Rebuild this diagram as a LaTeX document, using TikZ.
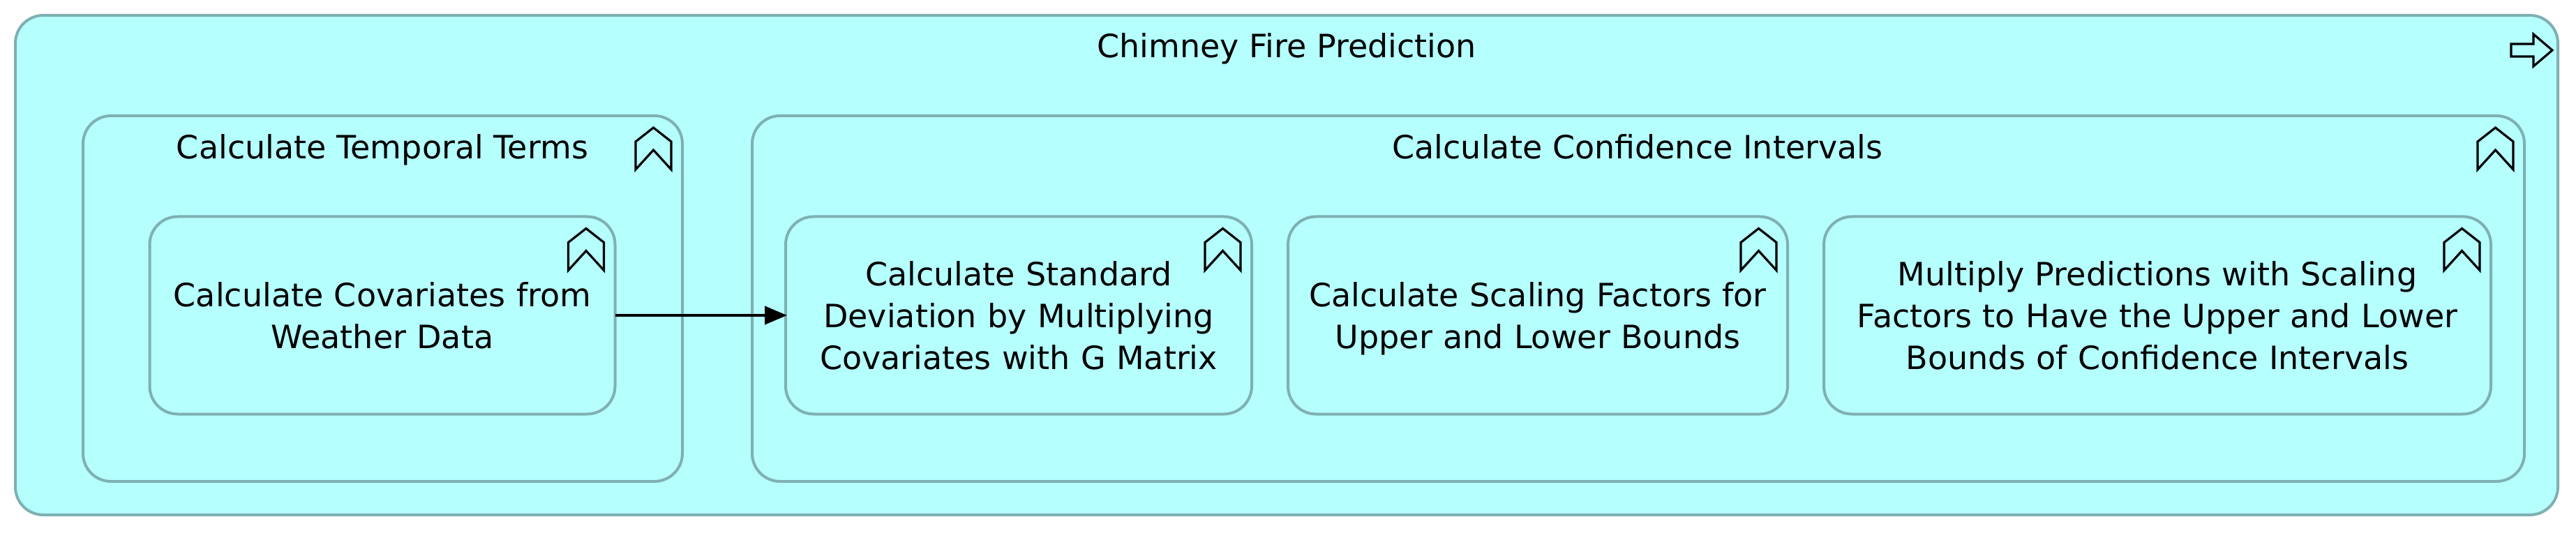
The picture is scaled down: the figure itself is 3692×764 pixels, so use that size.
\documentclass[tikz,border=0pt]{standalone}
\usepackage{fontspec}
\setmainfont{DejaVu Sans}
\usetikzlibrary{arrows.meta}
\definecolor{boxfill}{HTML}{B5FFFF}
\definecolor{boxline}{HTML}{7FB0B2}
\begin{document}
\begin{tikzpicture}[
        x=0.5pt, y=-0.5pt,
        box/.style={draw=boxline, fill=boxfill, line width=2pt, rounded corners=20pt, outer sep=0pt, inner sep=0pt, text width=#1, align=center, font=\fontsize{23}{30}\selectfont},
        title/.style={anchor=base, font=\fontsize{23}{30}\selectfont},
        iconline/.style={line width=1.6pt, miter limit=10},
        ar/.style={-{Triangle[length=16pt, width=13pt]}, line width=2pt, shorten >=-1pt},
    ]
    \useasboundingbox (0,0) rectangle (3692,764);

    \node[box=10pt, minimum width=1822pt, minimum height=358pt](fire) at (1844,380) {};
    \node[box=10pt, minimum width=429.5pt, minimum height=262pt](temporal) at (548.5,428) {};
    \node[box=10pt, minimum width=1270pt, minimum height=262pt](conf) at (2348,428) {};

    \node[box=325pt, minimum width=333.5pt, minimum height=141.5pt](cov) at (548,452) {Calculate Covariates from\\Weather Data};
    \node[box=325pt, minimum width=334pt, minimum height=141.5pt](std) at (1460,452) {Calculate Standard\\Deviation by Multiplying\\Covariates with G Matrix};
    \node[box=345pt, minimum width=358pt, minimum height=141.5pt](scale) at (2204,452) {Calculate Scaling Factors for\\\leavevmode\smash{Upper and Lower Bounds}};
    \node[box=470pt, minimum width=478pt, minimum height=141.5pt](mult) at (3092,452) {Multiply Predictions with Scaling\\Factors to Have the Upper and Lower\\Bounds of Confidence Intervals};

    \node[title](firetitle) at (1844,83) {Chimney Fire Prediction};
    \node[title](temporaltitle) at (548,228) {Calculate Temporal Terms};
    \node[title](conftitle) at (2347,228) {Calculate Confidence Intervals};

    % chevrons, from top right corner
    \foreach \n in {temporal, conf, cov, std, scale, mult}
        \draw[iconline] ([shift={(-67,37)}]\n.north east) -- ++(25.5,-20) -- ++(25.5,20) -- ++(0,40) -- ++(-25.5,-28) -- ++(-25.5,28) -- cycle;

    % process arrow
    \draw[iconline] ([shift={(-67,41)}]fire.north east) -- ++(32,0) -- ++(0,-14) -- ++(27,23) -- ++(-27,23) -- ++(0,-14) -- ++(-32,0) -- cycle;

    \path[ar] (cov) edge (std);
\end{tikzpicture}
\end{document}
